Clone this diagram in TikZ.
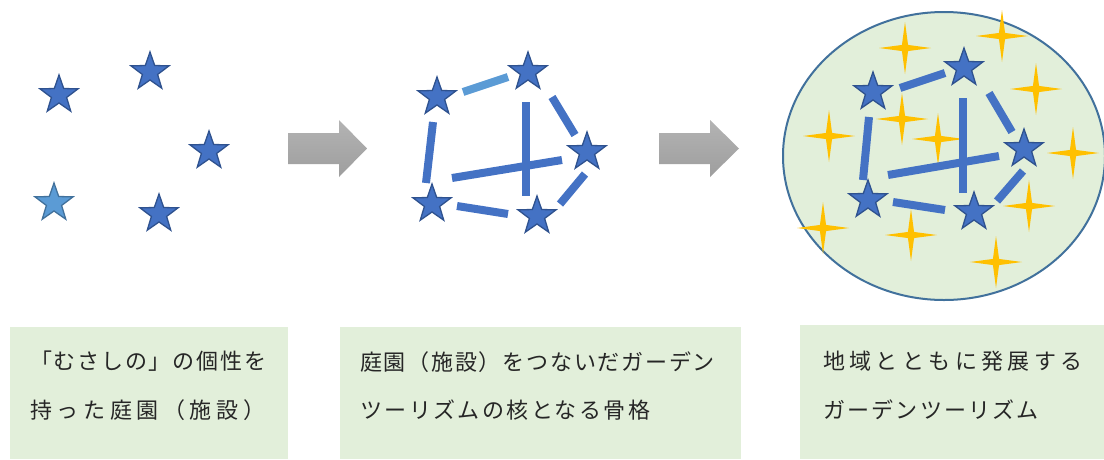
\documentclass[tikz,border=0pt]{standalone}
\usepackage{fontspec}
\newfontfamily\jp{Noto Sans CJK JP}
\usetikzlibrary{shapes.geometric}
\definecolor{starblue}{HTML}{4472C4}
\definecolor{stardark}{HTML}{2F528F}
\definecolor{starlight}{HTML}{5B9BD5}
\definecolor{starlightdark}{HTML}{41719C}
\definecolor{gold}{HTML}{FFC000}
\definecolor{boxgreen}{HTML}{E2EFDA}
\definecolor{arrowgray}{HTML}{A6A6A6}
\definecolor{txt}{HTML}{262626}
\newcommand{\lsp}[1]{\addfontfeature{LetterSpace=#1}}
\tikzset{
  bstar/.style={star, star points=5, star point ratio=2.5, minimum size=40, inner sep=0pt, fill=starblue, draw=stardark, line width=1.3},
  lstar/.style={bstar, fill=starlight, draw=starlightdark},
  spark/.style={star, star points=4, star point ratio=6, minimum size=52, inner sep=0pt, fill=gold, draw=none},
  seg/.style={line width=8, draw=starblue},
  lseg/.style={line width=8, draw=starlight},
  garrow/.style={top color=arrowgray!85!white, bottom color=arrowgray!95!black, draw=none},
  gbox/.style={fill=boxgreen, draw=none},
  label/.style={anchor=base west, inner sep=0pt, font=\jp\fontsize{22}{25}\selectfont, text=txt},
}
\begin{document}
\begin{tikzpicture}[x=1pt,y=-1pt]
\useasboundingbox (0,0) rectangle (1104,459);
% ---------- panel 1 ----------
\node[bstar] (a1) at (59,95) {};
\node[bstar] (a2) at (150,72) {};
\node[bstar] (a3) at (209,151) {};
\node[lstar] (a4) at (54,203) {};
\node[bstar] (a5) at (159,214) {};
% ---------- arrows ----------
\path[garrow] (288,133) -- (339,133) -- (339,120) -- (367,148.5) -- (339,177) -- (339,164) -- (288,164) -- cycle;
\path[garrow] (659,133) -- (710,133) -- (710,120) -- (739,148.5) -- (710,177) -- (710,164) -- (659,164) -- cycle;
% ---------- panel 2 ----------
\draw[lseg] (463,92) -- (508,77);
\draw[seg] (433,122) -- (426,183);
\draw[seg] (552,97) -- (575,135);
\draw[seg] (526,102) -- (526,196);
\draw[seg] (452,178) -- (562,160);
\draw[seg] (457,206) -- (508,214);
\draw[seg] (585,174) -- (560,204);
\node[bstar] (b1) at (437,97) {};
\node[bstar] (b2) at (528,72) {};
\node[bstar] (b3) at (587,152) {};
\node[bstar] (b4) at (432,204) {};
\node[bstar] (b5) at (537,216) {};
% ---------- panel 3 ----------
\node[ellipse, minimum width=322, minimum height=288, inner sep=0pt, fill=boxgreen, draw=starlightdark, line width=2] (ell) at (944,156) {};
\node[spark] (s1) at (905,48) {};
\node[spark] (s2) at (1002,36) {};
\node[spark] (s3) at (1036,89) {};
\node[spark] (s4) at (829,136) {};
\node[spark] (s5) at (902,119) {};
\node[spark] (s6) at (938,139) {};
\node[spark] (s7) at (1073,153) {};
\node[spark] (s8) at (1029,206) {};
\node[spark] (s9) at (823,228) {};
\node[spark] (s10) at (911,235) {};
\node[spark] (s11) at (996,262) {};
\draw[seg] (900,88) -- (945,73);
\draw[seg] (869,117) -- (863,180);
\draw[seg] (989,93) -- (1012,132);
\draw[seg] (963,98) -- (963,193);
\draw[seg] (888,175) -- (999,156);
\draw[seg] (893,202) -- (945,210);
\draw[seg] (1023,171) -- (997,201);
\node[bstar] (c1) at (873,92) {};
\node[bstar] (c2) at (964,68) {};
\node[bstar] (c3) at (1024,149) {};
\node[bstar] (c4) at (868,200) {};
\node[bstar] (c5) at (974,212) {};
% ---------- text boxes ----------
\fill[gbox] (10,327) rectangle (288,459);
\fill[gbox] (340,327) rectangle (741,459);
\fill[gbox] (800,325) rectangle (1104,459);
\node[label] (t1a) at (30,369) {\lsp{8}「むさしの」の個性を};
\node[label] (t1b) at (30,418) {\lsp{21}持った庭園（施設）};
\node[label] (t2a) at (360,370) {\lsp{8}庭園（施設）をつないだガーデン};
\node[label] (t2b) at (360,418) {\lsp{11}ツーリズムの核となる骨格};
\node[label] (t3a) at (823,369) {\lsp{20}地域とともに発展する};
\node[label] (t3b) at (823,418) {\lsp{10}ガーデンツーリズム};
\end{tikzpicture}
\end{document}
